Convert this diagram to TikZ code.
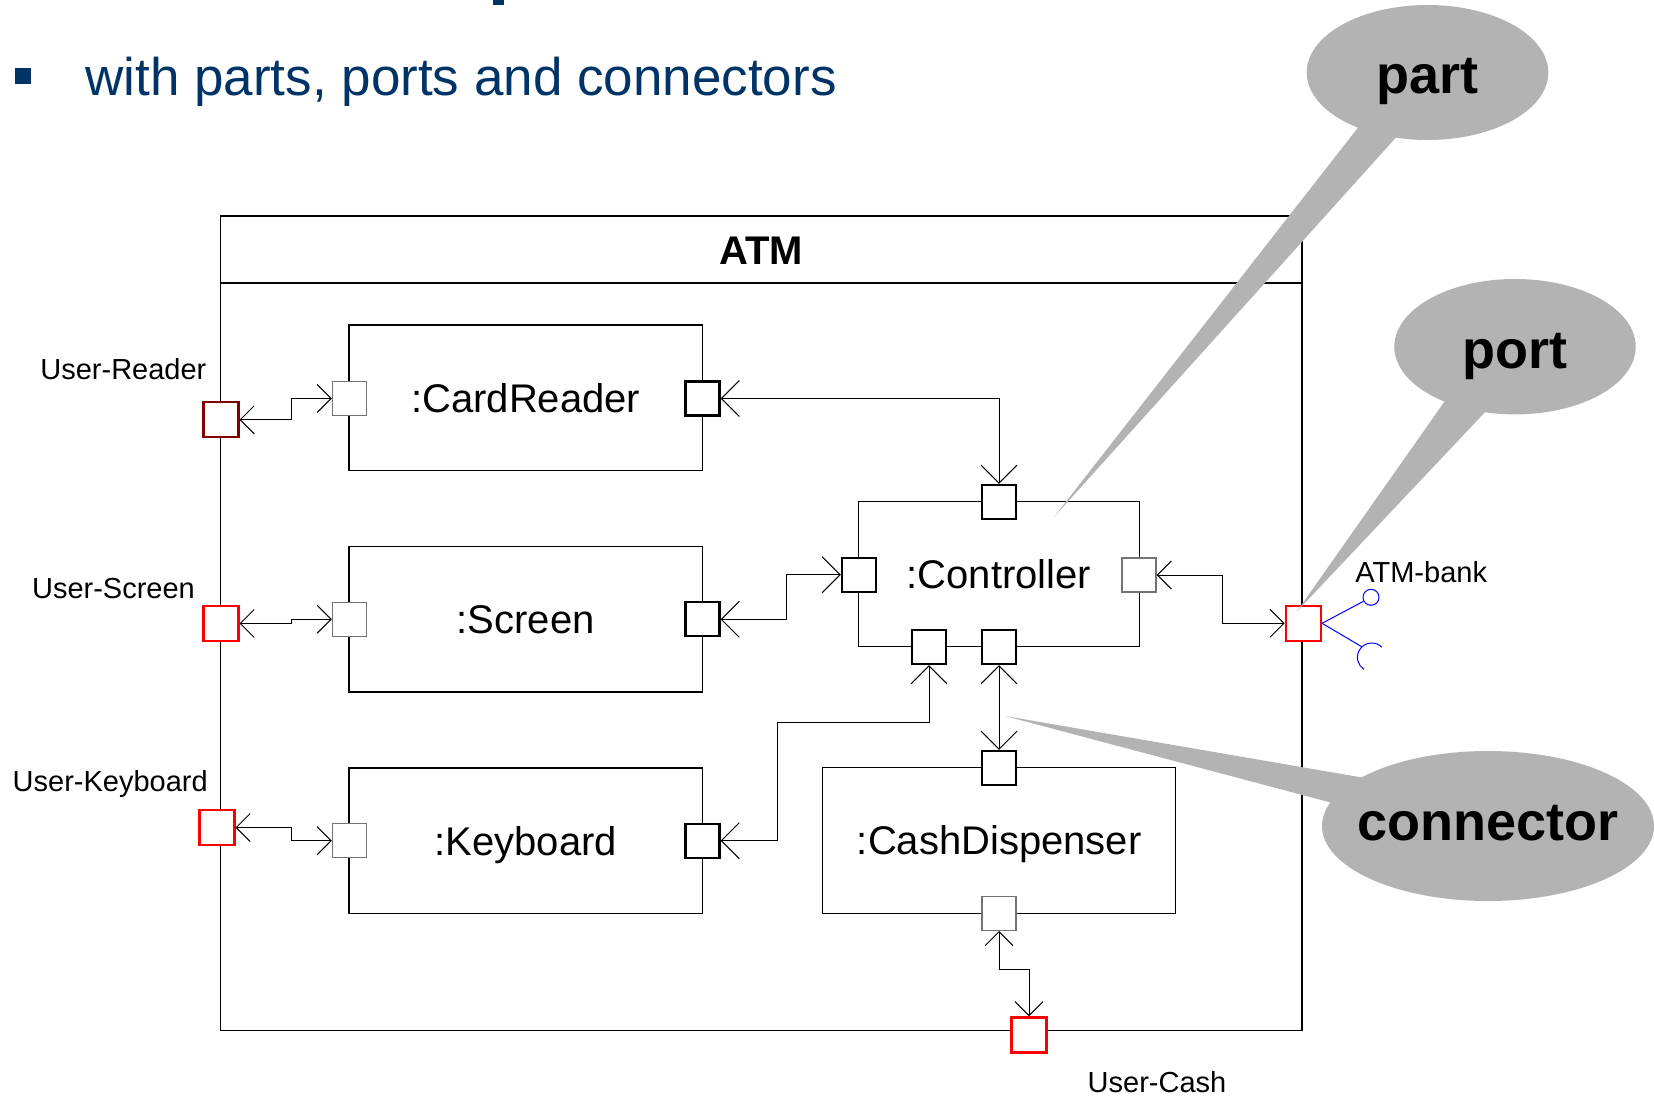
\documentclass[tikz,border=0pt]{standalone}
\usepackage{fontspec}
\setmainfont{Liberation Sans}
\usetikzlibrary{arrows.meta}

\definecolor{titleblue}{RGB}{0,51,102}
\definecolor{calloutgray}{RGB}{179,179,179}
\definecolor{portdarkred}{RGB}{130,0,0}

\tikzset{
  partbox/.style={draw, line width=0.6pt, rectangle, inner sep=0pt,
    text height=14.3pt, text depth=0pt,
    font=\fontsize{20}{24}\selectfont},
  portbox/.style={rectangle, fill=white, inner sep=0pt, minimum size=17pt},
  strongport/.style={portbox, draw=black, line width=1.1pt},
  weakport/.style={portbox, draw=black!55, line width=0.7pt},
  extport/.style={portbox, draw=red, line width=1.2pt, minimum size=17.5pt},
  con/.style={line width=0.5pt},
  iface/.style={draw=blue, line width=0.5pt},
  bigtip/.tip={Straight Barb[length=9pt,width=18pt]},
  smalltip/.tip={Straight Barb[length=7pt,width=14pt]},
  extlabel/.style={anchor=base west, inner sep=0pt, font=\fontsize{14.5}{17}\selectfont},
  callout/.style={fill=calloutgray},
  callouttext/.style={anchor=base, inner sep=0pt, font=\fontsize{27}{32}\bfseries\selectfont}
}

\begin{document}
\begin{tikzpicture}[x=0.5pt, y=-0.5pt]
\useasboundingbox (0,0) rectangle (1654,1096);

% heading line
\fill[titleblue] (493,0) rectangle (504,5);
\fill[titleblue] (15,67.7) rectangle (31,84);
\node[anchor=base west, inner sep=0pt, text=titleblue,
  font=\fontsize{26.5}{31}\selectfont] (title) at (85,95.7)
  {with parts, ports and connectors};

% ATM frame
\node[draw, line width=0.8pt, rectangle, inner sep=0pt,
  minimum width=540.6pt, minimum height=407.25pt] (atm) at (761.1,623.25) {};
\draw[line width=0.8pt] (220.5,283) -- (1301.7,283);
\node[anchor=base, inner sep=0pt, font=\fontsize{20}{24}\bfseries\selectfont]
  (atmname) at (761.3,265) {ATM};

% parts
\node[partbox, minimum width=176.75pt, minimum height=72.75pt] (cr) at (525.75,397.75) {:CardReader};
\node[partbox, minimum width=176.75pt, minimum height=72.8pt] (sc) at (525.75,619.2) {:Screen};
\node[partbox, minimum width=176.75pt, minimum height=72.75pt] (kb) at (525.75,840.75) {:Keyboard};
\node[partbox, minimum width=140.15pt, minimum height=72.5pt] (ct) at (999,574.2) {:Controller};
\node[partbox, minimum width=176.5pt, minimum height=72.8pt] (cd) at (999.2,840.5) {:CashDispenser};

% ports of the parts
\node[weakport]   (crL) at (349.5,398.5) {};
\node[strongport] (crR) at (702.5,398.5) {};
\node[weakport]   (scL) at (349.5,619.3) {};
\node[strongport] (scR) at (702.5,619.3) {};
\node[weakport]   (kbL) at (349.5,840.7) {};
\node[strongport] (kbR) at (702.5,840.7) {};
\node[strongport] (ctT) at (999,502) {};
\node[strongport] (ctL) at (858.9,574.7) {};
\node[weakport]   (ctR) at (1139,575) {};
\node[strongport] (ctB1) at (929,647) {};
\node[strongport] (ctB2) at (999,647) {};
\node[strongport] (cdT) at (999,768) {};
\node[weakport]   (cdB) at (999,913.3) {};

% ports on the ATM boundary
\node[extport, draw=portdarkred] (urP) at (220.8,419.8) {};
\node[extport] (usP) at (220.8,623.5) {};
\node[extport] (ukP) at (216.8,827.5) {};
\node[extport] (cashP) at (1029,1035) {};
\node[extport] (bankP) at (1303.3,623.3) {};

% connectors
\draw[con, {smalltip}-{smalltip}] (urP.east) -- (291.7,419.8) |- (crL.west);
\draw[con, {smalltip}-{smalltip}] (usP.east) -- (291.7,623.5) |- (scL.west);
\draw[con, {smalltip}-{smalltip}] (ukP.east) -- (291.7,827.5) |- (kbL.west);
\draw[con, {bigtip}-{bigtip}] (crR.east) -| (ctT.north);
\draw[con, {bigtip}-{bigtip}] (scR.east) -- (786.5,619.3) |- (ctL.west);
\draw[con, {bigtip}-{bigtip}] (kbR.east) -- (777.5,840.7) -- (777.5,722.7) -| (ctB1.south);
\draw[con, {bigtip}-{bigtip}] (ctB2.south) -- (cdT.north);
\draw[con, {smalltip}-{smalltip}] (cdB.south) -- (999,969.3) -| (cashP.north);
\draw[con, {smalltip}-{smalltip}] (ctR.east) -- (1222.7,575) |- (bankP.west);

% provided / required interfaces of ATM-bank
\node[circle, iface, inner sep=0pt, minimum size=8pt] (lolli) at (1371,597.3) {};
\draw[iface] (bankP.east) -- (lolli);
\coordinate (sock) at (1371.7,657.3);
\draw[iface] (bankP.east) -- (1361.7,646.7);
\draw[iface] (sock) ++(-45:14.3) arc[start angle=-45, end angle=-237, radius=14.3];

% port labels
\node[extlabel] (lUR) at (40,380) {User-Reader};
\node[extlabel] (lUS) at (31.7,598) {User-Screen};
\node[extlabel] (lUK) at (12.3,791.7) {User-Keyboard};
\node[extlabel] (lUC) at (1087.3,1092.5) {User-Cash};
\node[extlabel] (lAB) at (1355,582) {ATM-bank};

% callouts
\fill[callout] (1427.5,72.5) ellipse [x radius=120.8, y radius=67.5];
\fill[callout] (1360,125) -- (1054,517) -- (1400,133) -- cycle;
\node[callouttext] (cPart) at (1427.5,93.3) {part};

\fill[callout] (1515,346.7) ellipse [x radius=120.7, y radius=67.7];
\fill[callout] (1447,398) -- (1296.7,611.7) -- (1488,409) -- cycle;
\node[callouttext] (cPort) at (1515,368.3) {port};

\fill[callout] (1488,826) ellipse [x radius=166, y radius=75];
\fill[callout] (1365,778) -- (1005,716) -- (1340,805) -- cycle;
\node[callouttext] (cConn) at (1488.3,840) {connector};
\end{tikzpicture}
\end{document}
